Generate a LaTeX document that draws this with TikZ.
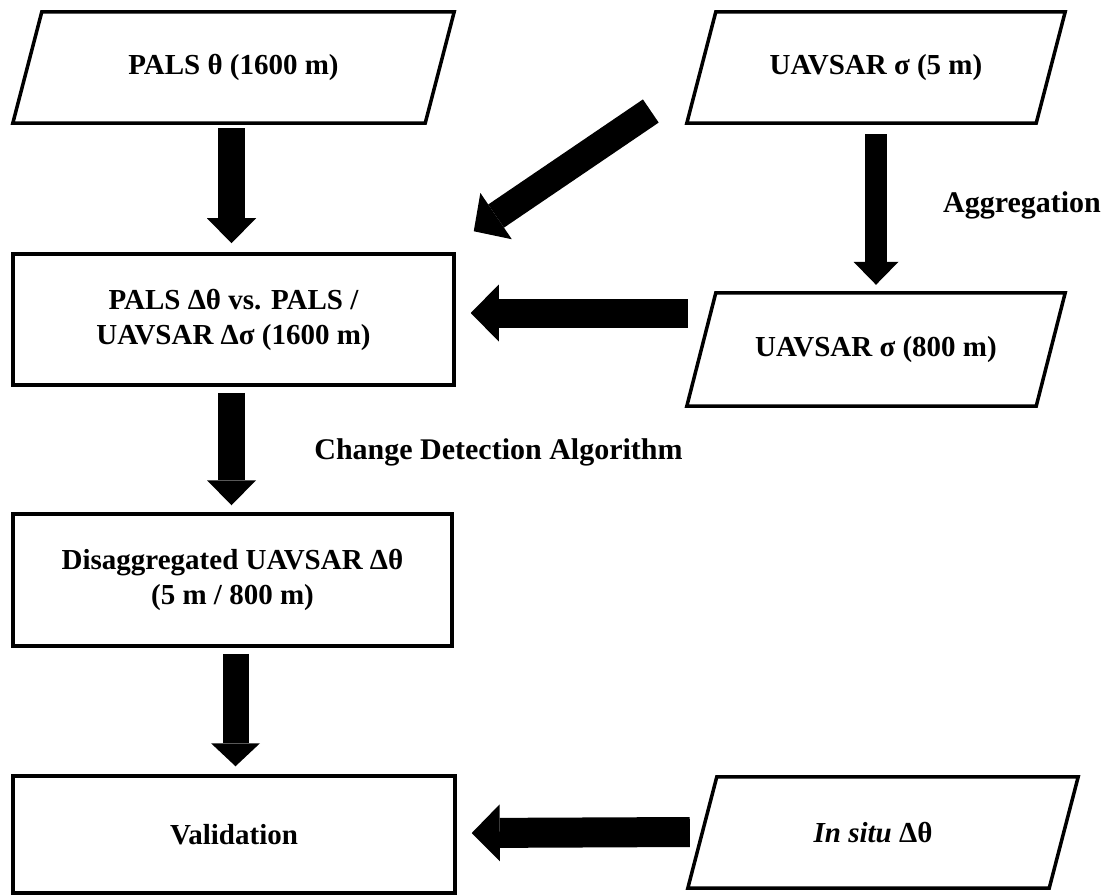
\documentclass[tikz,border=0pt]{standalone}
\usepackage{fontspec}
\setmainfont{Liberation Serif}
\usetikzlibrary{arrows.meta}
\tikzset{
  txt/.style={font=\fontsize{29}{35}\selectfont\bfseries, align=center, inner sep=0pt},
  lbl/.style={font=\fontsize{30}{36}\selectfont\bfseries, inner sep=0pt},
  rectbox/.style={txt, draw, line width=3.5pt},
  iobox/.style={txt},
  ioline/.style={draw, line width=3.5pt, line join=miter},
  blk/.style n args={3}{draw, line width=#1, -{Triangle[length=#3, width=#2, line width=0pt]}},
}
\begin{document}
\begin{tikzpicture}[x=1pt,y=-1pt]
\useasboundingbox (0,0) rectangle (1116,896);

% nodes
\node[iobox, minimum width=441pt, minimum height=111pt] (a) at (233.5,67.5) {PALS θ (1600 m)};
\node[iobox, minimum width=378pt, minimum height=111pt] (b) at (876,67.5) {UAVSAR σ (5 m)};
\node[iobox, minimum width=378pt, minimum height=113pt] (c) at (876,349.5) {UAVSAR σ (800 m)};
\node[rectbox, minimum width=441pt, minimum height=131pt] (d) at (233.5,319.5) {PALS Δθ vs. PALS /\\UAVSAR Δσ (1600 m)};
\node[rectbox, minimum width=439pt, minimum height=132pt] (e) at (232.5,580) {Disaggregated UAVSAR Δθ\\(5 m / 800 m)};
\node[rectbox, minimum width=442pt, minimum height=117pt] (f) at (234,834.5) {Validation};
\node[iobox, minimum width=390pt, minimum height=111pt] (g) at (883,832.5) {\hspace*{-20pt}\textit{In situ} Δθ};

% parallelogram outlines
\foreach \n in {a,b,c,g}{
  \draw[ioline] ([xshift=29pt]\n.north west) -- (\n.north east) -- ([xshift=-29pt]\n.south east) -- (\n.south west) -- cycle;
}

% labels
\node[lbl] (agg) at (1022,205) {Aggregation};
\node[lbl] (cda) at (498.5,452) {Change Detection Algorithm};

% arrows
\draw[blk={27pt}{49pt}{25pt}] ([xshift=-2pt,yshift=-5pt]a.south) -- ([xshift=-2pt,yshift=9pt]d.north);
\draw[blk={22pt}{45pt}{23pt}] ([yshift=-11pt]b.south) -- ([yshift=8pt]c.north);
\draw[blk={28pt}{56pt}{27pt}] ([xshift=-36pt,yshift=-43.5pt]b.west) -- ([xshift=18pt,yshift=21pt]d.north east);
\draw[blk={29pt}{57pt}{28pt}] ([xshift=1pt,yshift=36.5pt]c.west) -- ([xshift=15pt,yshift=6.5pt]d.east);
\draw[blk={27pt}{49pt}{25pt}] ([xshift=-2pt,yshift=-6pt]d.south) -- ([xshift=-1pt,yshift=7pt]e.north);
\draw[blk={26pt}{49pt}{23pt}] ([xshift=3pt,yshift=-6pt]e.south) -- ([xshift=1.5pt,yshift=8pt]f.north);
\draw[blk={30pt}{57pt}{28pt}] ([xshift=2pt,yshift=0.5pt]g.west) -- ([xshift=15pt,yshift=1.5pt]f.east);
\end{tikzpicture}
\end{document}
